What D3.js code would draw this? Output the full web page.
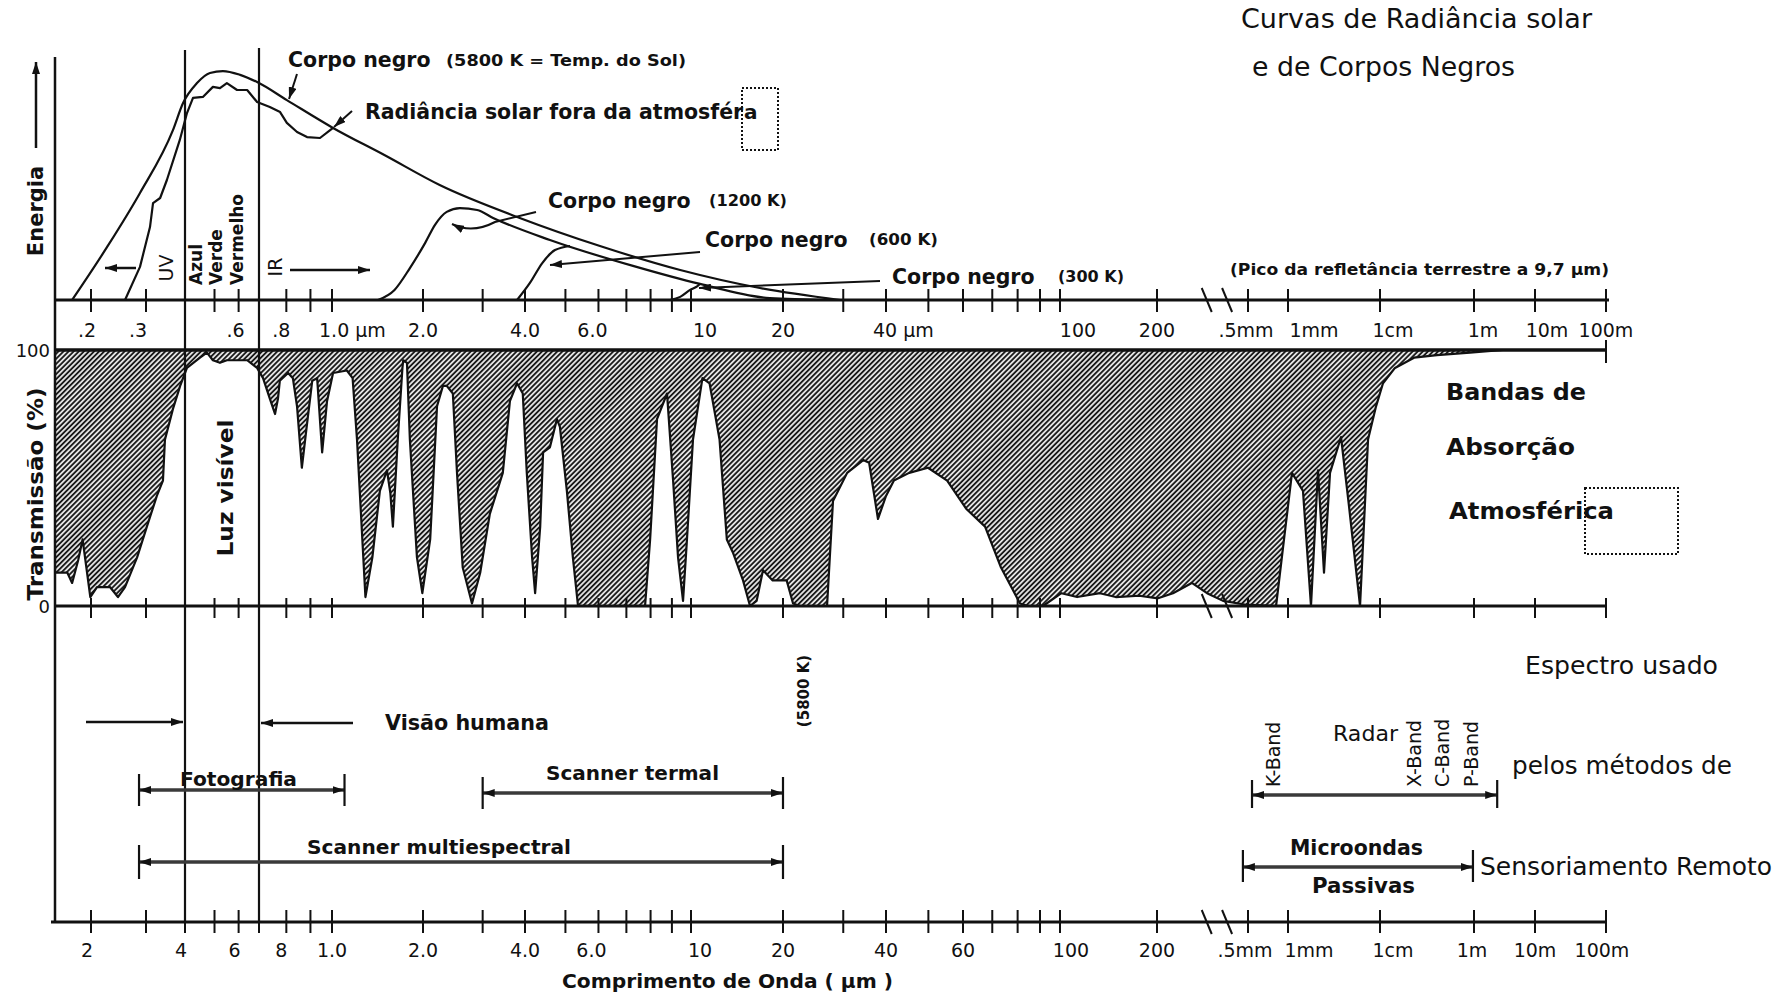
<!DOCTYPE html>
<html><head><meta charset="utf-8">
<script src="https://cdn.jsdelivr.net/npm/d3@7"></script>
<style>html,body{margin:0;padding:0;background:#fff}svg{display:block}</style>
</head><body>
<script>
// ================= DATA =================
// Energy curves: [wavelength (µm), relative energy 0-100]
const blackBody5800 = [[0.174,0],[0.225,22],[0.287,44.6],[0.366,70.8],[0.394,82],[0.438,90.4],[0.483,94.6],[0.533,95.4],[0.607,93.8],[0.690,90.8],[0.802,83.3],[1.008,71.7],[1.49,60.4],[2.24,47.9],[3.86,34.2],[6.05,22.5],[9.42,12.5],[16.8,5],[29.4,0]];
const solarRadiance = [[0.257,0],[0.287,13.8],[0.309,30.4],[0.316,40.4],[0.333,42.5],[0.350,50],[0.385,66.7],[0.406,77.9],[0.425,84.2],[0.458,84.6],[0.494,88.8],[0.521,88.3],[0.549,90.4],[0.593,87.5],[0.640,87.5],[0.690,82.5],[0.738,80.4],[0.776,78.3],[0.802,73.8],[0.843,70],[0.885,67.9],[0.943,67.5],[0.991,70.8],[1.008,71.7]];
const blackBody1200 = [[1.42,0],[1.61,4.2],[1.81,13.3],[2.03,23.8],[2.17,31.3],[2.35,36.7],[2.57,38.3],[2.89,37.5],[3.22,34.2],[4.59,25],[7.26,14.2],[10.7,6.7],[18.1,0.8],[27.4,0]];
const blackBody600 = [[3.79,0],[4.11,7.1],[4.40,15.4],[4.72,20.8],[5.13,22.5]];
const blackBody300 = [[8.91,0],[9.42,1.3],[9.95,4.2],[10.5,5.8],[10.7,6.7]];

// Atmospheric transmission: [wavelength (µm), transmission %]
const transmission = [[0.153,13],[0.168,13],[0.174,9],[0.182,18],[0.188,26],[0.199,3.5],[0.209,7.4],[0.230,7.4],[0.244,3.5],[0.257,7.4],[0.281,19],[0.302,31],[0.325,43],[0.340,49],[0.345,65],[0.366,77],[0.386,86],[0.406,93],[0.448,97],[0.472,99],[0.494,96],[0.521,95],[0.549,96],[0.640,96],[0.690,93],[0.714,89],[0.738,81],[0.757,75],[0.768,81],[0.775,88],[0.807,91],[0.826,89],[0.843,78],[0.863,54],[0.885,71],[0.908,88],[0.930,89],[0.953,60],[0.976,80],[1.008,91],[1.12,92],[1.17,89],[1.21,65],[1.26,26],[1.29,3.5],[1.36,19],[1.44,45],[1.52,53],[1.56,44],[1.59,31],[1.65,65],[1.71,93],[1.72,96],[1.77,95],[1.81,65],[1.91,19],[1.99,5],[2.10,26],[2.20,78],[2.29,86],[2.35,86],[2.45,83],[2.52,52],[2.62,15],[2.79,1],[2.95,13],[3.15,36],[3.44,52],[3.61,80],[3.79,87],[3.94,83],[4.04,52],[4.16,19],[4.23,5],[4.35,31],[4.42,60],[4.59,62],[4.77,73],[4.85,70],[5.04,45],[5.21,19],[5.36,0],[7.76,0],[7.98,26],[8.29,73],[8.76,83],[9.06,49],[9.31,19],[9.57,2],[9.78,26],[10.15,65],[10.9,89],[11.5,87],[12.4,65],[13.1,26],[13.7,21],[14.8,10],[15.6,0],[16.4,2],[17.2,14],[18.5,10],[20.5,10],[21.4,1],[22.4,0],[26.9,0],[28.0,41],[30.8,52],[33.6,56],[34.3,57],[35.7,56],[37.9,34],[40,43],[41.7,49],[45.2,52],[49.9,54],[55.2,49],[61.0,38],[67.4,31],[73.3,15],[81.0,1],[84.5,0],[91.4,0],[101,5],[113,3.5],[133,5],[149,3.5],[176,4],[202,3],[235,5],[284,9],[331,5],[389,2],[490,0.5],[813,0],[933,26],[1105,52],[1455,45],[1778,0],[2120,53],[2462,13],[2862,52],[3770,66],[4603,39],[6067,0],[7413,65],[9057,78],[11580,87],[20850,93],[52960,97],[163300,98],[822000,99],[3e6,100]];

// Axis ticks (µm)
const tickValues = [0.2,0.3,0.4,0.5,0.6,0.7,0.8,0.9,1,2,3,4,5,6,7,8,9,10,20,30,40,50,60,70,80,90,100,200,500,1000,1e4,1e6,1e7,1e8];
const topLabelValues = [0.2,0.3,0.6,0.8,1,2,4,6,10,20,40,100,200,500,1000,1e4,1e6,1e7,1e8];
const topLabels = [".2",".3",".6",".8","1.0 µm","2.0","4.0","6.0","10","20","40 µm","100","200",".5mm","1mm","1cm","1m","10m","100m"];
const bottomLabelValues = [0.2,0.4,0.6,0.8,1,2,4,6,10,20,40,60,100,200,500,1000,1e4,1e6,1e7,1e8];
const bottomLabels = ["2","4","6","8","1.0","2.0","4.0","6.0","10","20","40","60","100","200",".5mm","1mm","1cm","1m","10m","100m"];

// Visible light limits (µm)
const visibleLimits = [0.4, 0.7];
// Remote sensing ranges (µm)
const sensorNames = ["Fotografia","Scanner termal","Scanner multiespectral","Radar","Microondas Passivas"];
const sensorRanges = [[0.285,1.1],[3,20],[0.285,20],[536,2.4e6],[475,9.5e5]];
const radarBands = ["K-Band","X-Band","C-Band","P-Band"];
const radarBandWavelengths = [757, 50400, 198600, 822000];
const axisBreak = [330, 405];

// ================= LAYOUT =================
const W = 1789, H = 997;
const X_ANCHOR_WL = [0.15,0.2,0.4,0.7,1,2,4,10,20,40,100,200,500,1000,1e4,1e6,1e7,1e8];
const X_ANCHOR_PX = [52,91,185,259,332,423,525,691,783,886,1060,1157,1248,1288,1380,1474,1535,1606];
// label nudges (px) as drawn in the original scan
const TOP_LABEL_DX = [-4,-8,-3,-5,0,0,0,-6,14,0,0,18,0,-2,26,13,9,12,0];
const BOTTOM_LABEL_DX = [-4,-4,-4,-5,0,0,0,-7,9,0,0,0,11,0,-3,21,13,-2,0,-4];
const xs = d3.scaleLinear().domain(X_ANCHOR_WL.map(Math.log10)).range(X_ANCHOR_PX);
const X = w => xs(Math.log10(w));
const yE = d3.scaleLinear().domain([0,100]).range([300,60]);
const yT = d3.scaleLinear().domain([0,100]).range([606,350]);
const INK = "#111";
const FONT = "'DejaVu Sans', sans-serif";

const svg = d3.select("body").append("svg").attr("width",W).attr("height",H)
  .attr("font-family",FONT);
svg.append("rect").attr("width",W).attr("height",H).attr("fill","#fff");

const defs = svg.append("defs");
const pat = defs.append("pattern").attr("id","hatch").attr("patternUnits","userSpaceOnUse")
  .attr("width",3.6).attr("height",3.6).attr("patternTransform","rotate(45)");
pat.append("rect").attr("width",3.6).attr("height",3.6).attr("fill","#eeeeee");
pat.append("line").attr("x1",1.8).attr("y1",0).attr("x2",1.8).attr("y2",3.6)
  .attr("stroke","#1a1a1a").attr("stroke-width",1.9);
defs.append("marker").attr("id","ah").attr("viewBox","0 0 12 8").attr("refX",12).attr("refY",4)
  .attr("markerWidth",12).attr("markerHeight",8).attr("markerUnits","userSpaceOnUse")
  .attr("orient","auto-start-reverse")
  .append("path").attr("d","M0,0L12,4L0,8Z").attr("fill",INK);

// ---- transmission hatched area ----
const area = d3.area().x(d=>X(d[0])).y0(yT(100)).y1(d=>yT(d[1])).curve(d3.curveLinear);
svg.append("path").datum(transmission).attr("d",area).attr("fill","url(#hatch)");
svg.append("path").datum(transmission)
  .attr("d",d3.line().x(d=>X(d[0])).y(d=>yT(d[1])))
  .attr("fill","none").attr("stroke",INK).attr("stroke-width",2.2).attr("stroke-linejoin","round");

// ---- frame lines ----
function ln(x1,y1,x2,y2,w,c){svg.append("line").attr("x1",x1).attr("y1",y1).attr("x2",x2).attr("y2",y2)
  .attr("stroke",c||INK).attr("stroke-width",w||2);}
ln(55,300,1609,300,3);
ln(55,350,1606,350,3.5);
ln(1606,340,1606,363,2);
ln(55,606,1606,606,3);
ln(51,922,1606,922,3);
ln(55,57,55,922,2.5);
visibleLimits.forEach((v,i)=>ln(X(v), i?48:50, X(v), 922, 2.2));

// ticks
[[300,289,312],[606,598,618],[922,910,933]].forEach(([y,a,b])=>{
  svg.append("g").selectAll("line").data(tickValues).join("line")
    .attr("x1",d=>X(d)).attr("x2",d=>X(d)).attr("y1",a).attr("y2",b)
    .attr("stroke",INK).attr("stroke-width",2);
  axisBreak.forEach(w=>ln(X(w)-5,y-12,X(w)+5,y+12,2));
});

// tick labels
function tickLabels(vals,labs,dx,y){
  svg.append("g").selectAll("text").data(vals).join("text")
    .attr("x",(d,i)=>(labs[i].includes("µm")?X(d)-13:X(d))+dx[i])
    .attr("y",y).attr("text-anchor",(d,i)=>labs[i].includes("µm")?"start":"middle")
    .attr("font-size",19).attr("fill",INK).text((d,i)=>labs[i]);
}
tickLabels(topLabelValues,topLabels,TOP_LABEL_DX,337);
tickLabels(bottomLabelValues,bottomLabels,BOTTOM_LABEL_DX,957);

// ---- energy curves ----
const eLine = d3.line().x(d=>X(d[0])).y(d=>yE(d[1]));
[[blackBody5800,d3.curveMonotoneX],[solarRadiance,d3.curveLinear],[blackBody1200,d3.curveMonotoneX],
 [blackBody600,d3.curveMonotoneX],[blackBody300,d3.curveMonotoneX]].forEach(([data,c])=>{
  svg.append("path").datum(data).attr("d",eLine.curve(c)).attr("fill","none")
    .attr("stroke",INK).attr("stroke-width",2.2).attr("stroke-linejoin","round");
});

// ---- leaders and arrows ----
function poly(pts,w){
  return svg.append("path").attr("d",d3.line()(pts)).attr("fill","none")
    .attr("stroke",INK).attr("stroke-width",w||2).attr("marker-end","url(#ah)");
}
poly([[297,74],[289,99]],2);
poly([[352,111],[334,127]],2);
svg.append("path").attr("d","M536,212 L495,222 Q472,234 452,224").attr("fill","none")
  .attr("stroke",INK).attr("stroke-width",2).attr("marker-end","url(#ah)");
poly([[700,252],[550,265]],2);
poly([[880,281],[699,288]],2);
poly([[36,148],[36,62]],2.5);
poly([[136,268],[105,268]],2.5);
poly([[290,270],[370,270]],2.5);
poly([[86,722],[X(visibleLimits[0])-2,722]],2.5);
poly([[353,723],[X(visibleLimits[1])+2,723]],2.5);

// ---- sensor bars ----
const barY = [790,793,862,795,867];
const barTick = [[774,806],[777,809],[845,879],[780,808],[850,882]];
sensorRanges.forEach((r,i)=>{
  const x1 = X(r[0]), x2 = X(r[1]);
  svg.append("line").attr("x1",x1).attr("x2",x2).attr("y1",barY[i]).attr("y2",barY[i])
    .attr("stroke","#3a3a3a").attr("stroke-width",3.5)
    .attr("marker-start","url(#ah)").attr("marker-end","url(#ah)");
  ln(x1,barTick[i][0],x1,barTick[i][1],2.2);
  ln(x2,barTick[i][0],x2,barTick[i][1],2.2);
});

// ---- dotted boxes ----
svg.append("rect").attr("x",742).attr("y",88).attr("width",36).attr("height",62)
  .attr("fill","none").attr("stroke",INK).attr("stroke-width",2).attr("stroke-dasharray","2 2");
svg.append("rect").attr("x",1585).attr("y",488).attr("width",93).attr("height",66)
  .attr("fill","none").attr("stroke",INK).attr("stroke-width",2).attr("stroke-dasharray","2 2");

// ---- texts ----
const notes = [
 {t:"Curvas de Radiância solar",x:1241,y:28,s:26,len:351},
 {t:"e de Corpos Negros",x:1252,y:76,s:26,len:263},
 {t:"Corpo negro",x:288,y:67,s:20.5,b:1},
 {t:"(5800 K = Temp. do Sol)",x:446,y:66,s:15,b:1,len:240},
 {t:"Radiância solar fora da atmosfér",x:365,y:119,s:20.5,b:1},
 {t:"a",x:744,y:119,s:20,b:1},
 {t:"Corpo negro",x:548,y:208,s:20.5,b:1},
 {t:"(1200 K)",x:709,y:206,s:15,b:1,len:78},
 {t:"Corpo negro",x:705,y:247,s:20.5,b:1},
 {t:"(600 K)",x:869,y:245,s:15,b:1,len:69},
 {t:"Corpo negro",x:892,y:284,s:20.5,b:1},
 {t:"(300 K)",x:1058,y:282,s:15,b:1,len:66},
 {t:"(Pico da refletância terrestre a 9,7 µm)",x:1230,y:275,s:15,b:1,len:379},
 {t:"Bandas de",x:1446,y:400,s:23,b:1,len:140},
 {t:"Absorção",x:1446,y:455,s:23,b:1,len:129},
 {t:"Atmosférica",x:1449,y:519,s:23,b:1,len:165},
 {t:"Espectro usado",x:1525,y:674,s:25,len:193},
 {t:"pelos métodos de",x:1512,y:774,s:24,len:220},
 {t:"Sensoriamento Remoto",x:1480,y:875,s:25.5,len:292},
 {t:"Visão humana",x:385,y:730,s:20.5,b:1,len:164},
 {t:"Fotografia",x:180,y:786,s:20,b:1,len:117},
 {t:"Scanner termal",x:546,y:780,s:20,b:1,len:173},
 {t:"Scanner multiespectral",x:307,y:854,s:20,b:1,len:264},
 {t:"Radar",x:1333,y:741,s:22,len:65},
 {t:"Microondas",x:1290,y:855,s:20.5,b:1,len:133},
 {t:"Passivas",x:1312,y:893,s:20.5,b:1,len:103},
 {t:"Comprimento de Onda ( µm )",x:562,y:988,s:20,b:1,len:331},
 {t:"100",x:50,y:357,s:18,a:"end"},
 {t:"0",x:50,y:613,s:18,a:"end"},
 {t:"Energia",x:43,y:211,s:21,b:1,r:-90,a:"middle"},
 {t:"Transmissão (%)",x:43,y:494,s:22,b:1,r:-90,a:"middle",len:213},
 {t:"Luz visível",x:233,y:488,s:22,b:1,r:-90,a:"middle",len:137},
 {t:"UV",x:173,y:268,s:19,r:-90,a:"middle"},
 {t:"IR",x:282,y:267,s:19,r:-90,a:"middle"},
 {t:"Azul",x:202,y:285,s:17,b:1,r:-90},
 {t:"Verde",x:222,y:285,s:17,b:1,r:-90},
 {t:"Vermelho",x:243,y:285,s:17,b:1,r:-90},
 {t:"(5800 K)",x:809,y:691,s:15,b:1,r:-90,a:"middle"}
];
notes.forEach(n=>{
  const g = svg.append("text").attr("font-size",n.s).attr("fill",INK)
    .attr("font-weight",n.b?"bold":"normal").attr("text-anchor",n.a||"start").text(n.t);
  if(n.r){ g.attr("transform",`translate(${n.x},${n.y}) rotate(${n.r})`); }
  else { g.attr("x",n.x).attr("y",n.y); }
  if(n.len){ g.attr("textLength",n.len).attr("lengthAdjust","spacingAndGlyphs"); }
});
// radar band labels
radarBands.forEach((b,i)=>{
  svg.append("text").attr("transform",`translate(${X(radarBandWavelengths[i])+8},787) rotate(-90)`)
    .attr("font-size",19).attr("fill",INK).text(b);
});
</script>
</body></html>
